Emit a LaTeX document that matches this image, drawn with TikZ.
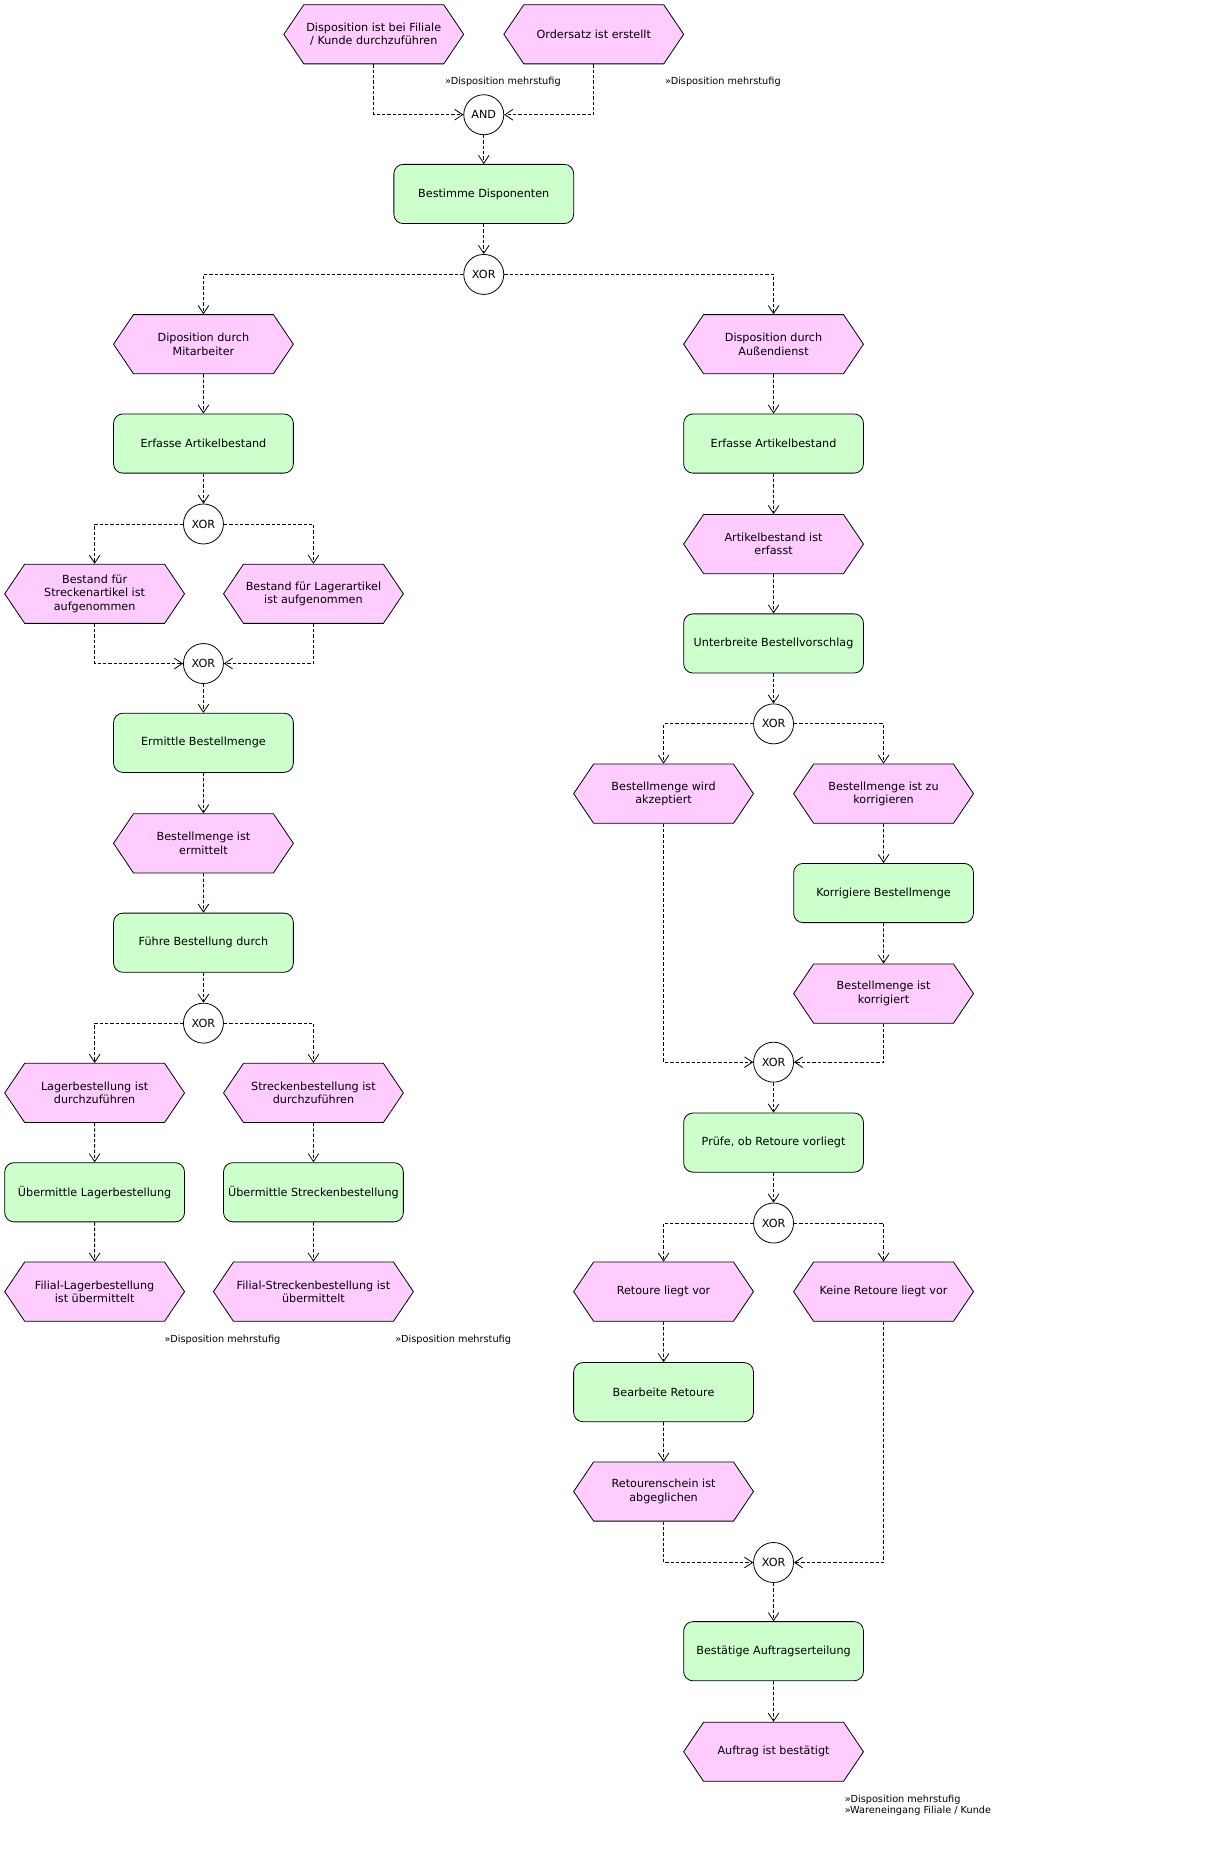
\documentclass[tikz,border=0pt]{standalone}
\usepackage{fontspec}
\setmainfont{DejaVu Sans}
\usetikzlibrary{shapes.symbols, arrows.meta}
\definecolor{ereignisfarbe}{HTML}{FFCCFF}
\definecolor{funktionsfarbe}{HTML}{CCFFCC}
\tikzset{
	ereignis/.style={signal, signal to=west and east, signal pointer angle=112, draw, line width=0.6pt,
		fill=ereignisfarbe, minimum width=134.9pt, minimum height=44.4pt, inner sep=1pt,
		align=center, font=\fontsize{8.4}{10}\selectfont}, % Ereignisse (Sechseck)
	funktion/.style={rectangle, rounded corners=7pt, draw, line width=0.6pt, fill=funktionsfarbe,
		minimum width=134.9pt, minimum height=44.4pt, inner sep=1pt,
		align=center, font=\fontsize{8.4}{10}\selectfont}, % Funktionen
	konnektor/.style={circle, draw, line width=0.6pt, fill=white, minimum size=30pt, inner sep=0pt,
		font=\fontsize{8.4}{10}\selectfont}, % AND / XOR
	fluss/.style={-{Straight Barb[length=6pt,width=8pt]}, dash pattern=on 2.5pt off 1.5pt,
		line width=0.6pt}, % Kontrollfluss
	verweis/.style={anchor=west, inner sep=0pt, align=left, font=\fontsize{7.3}{8.2}\selectfont} % Prozesswegweiser
}

\begin{document}
\begin{tikzpicture}[x=0.8873pt, y=-0.8873pt]
	\useasboundingbox (0,0) rectangle (1029,1570);

	% Start
	\node[ereignis] (E1) at (316,29) {Disposition ist bei Filiale\\/ Kunde durchzuführen};
	\node[ereignis] (E2) at (502,29) {Ordersatz ist erstellt};
	\node[verweis] (L1) at (376,69) {»Disposition mehrstufig};
	\node[verweis] (L2) at (562,69) {»Disposition mehrstufig};
	\node[konnektor] (AND) at (409,97) {AND};
	\node[funktion] (F1) at (409,164) {Bestimme Disponenten};
	\node[konnektor] (X1) at (409,232) {XOR};

	% Mitarbeiter
	\node[ereignis] (E3) at (172,291) {Diposition durch\\Mitarbeiter};
	\node[funktion] (F2) at (172,375) {Erfasse Artikelbestand};
	\node[konnektor] (X2) at (172,443) {XOR};
	\node[ereignis] (E5) at (80,502) {Bestand für\\Streckenartikel ist\\aufgenommen};
	\node[ereignis] (E6) at (265,502) {Bestand für Lagerartikel\\ist aufgenommen};
	\node[konnektor] (X3) at (172,561) {XOR};
	\node[funktion] (F3) at (172,628) {Ermittle Bestellmenge};
	\node[ereignis] (E7) at (172,713) {Bestellmenge ist\\ermittelt};
	\node[funktion] (F4) at (172,797) {Führe Bestellung durch};
	\node[konnektor] (X4) at (172,865) {XOR};
	\node[ereignis] (E8) at (80,924) {Lagerbestellung ist\\durchzuführen};
	\node[ereignis] (E9) at (265,924) {Streckenbestellung ist\\durchzuführen};
	\node[funktion] (F5) at (80,1008) {Übermittle Lagerbestellung};
	\node[funktion] (F6) at (265,1008) {Übermittle Streckenbestellung};
	\node[ereignis] (E10) at (80,1092) {Filial-Lagerbestellung\\ist übermittelt};
	\node[ereignis, minimum width=150pt] (E11) at (265,1092) {Filial-Streckenbestellung ist\\übermittelt};
	\node[verweis] (L3) at (139,1133) {»Disposition mehrstufig};
	\node[verweis] (L4) at (334,1133) {»Disposition mehrstufig};

	% Aussendienst
	\node[ereignis] (E4) at (654,291) {Disposition durch\\Außendienst};
	\node[funktion] (F7) at (654,375) {Erfasse Artikelbestand};
	\node[ereignis] (E12) at (654,460) {Artikelbestand ist\\erfasst};
	\node[funktion] (F8) at (654,544) {Unterbreite Bestellvorschlag};
	\node[konnektor] (X5) at (654,612) {XOR};
	\node[ereignis] (E13) at (561,671) {Bestellmenge wird\\akzeptiert};
	\node[ereignis] (E14) at (747,671) {Bestellmenge ist zu\\korrigieren};
	\node[funktion] (F9) at (747,755) {Korrigiere Bestellmenge};
	\node[ereignis] (E15) at (747,840) {Bestellmenge ist\\korrigiert};
	\node[konnektor] (X6) at (654,898) {XOR};
	\node[funktion] (F10) at (654,966) {Prüfe, ob Retoure vorliegt};
	\node[konnektor] (X7) at (654,1034) {XOR};
	\node[ereignis] (E16) at (561,1092) {Retoure liegt vor};
	\node[ereignis] (E17) at (747,1092) {Keine Retoure liegt vor};
	\node[funktion] (F11) at (561,1177) {Bearbeite Retoure};
	\node[ereignis] (E18) at (561,1261) {Retourenschein ist\\abgeglichen};
	\node[konnektor] (X8) at (654,1321) {XOR};
	\node[funktion] (F12) at (654,1396) {Bestätige Auftragserteilung};
	\node[ereignis] (E19) at (654,1481) {Auftrag ist bestätigt};
	\node[verweis] (L5) at (714,1526) {»Disposition mehrstufig\\»Wareneingang Filiale / Kunde};

	% Kanten
	\foreach \a/\b in {AND/F1, F1/X1, E3/F2, F2/X2, X3/F3, F3/E7, E7/F4, F4/X4, E8/F5, E9/F6, F5/E10, F6/E11,
		E4/F7, F7/E12, E12/F8, F8/X5, E14/F9, F9/E15, X6/F10, F10/X7, E16/F11, F11/E18, X8/F12, F12/E19}
		\draw[fluss] (\a) -- (\b);
	\foreach \a/\b in {X1/E3, X1/E4, X2/E5, X2/E6, X4/E8, X4/E9, X5/E13, X5/E14, X7/E16, X7/E17}
		\draw[fluss] (\a) -| (\b);
	\foreach \a/\b in {E1/AND, E2/AND, E5/X3, E6/X3, E13/X6, E15/X6, E18/X8, E17/X8}
		\draw[fluss] (\a) |- (\b);
\end{tikzpicture}
\end{document}
